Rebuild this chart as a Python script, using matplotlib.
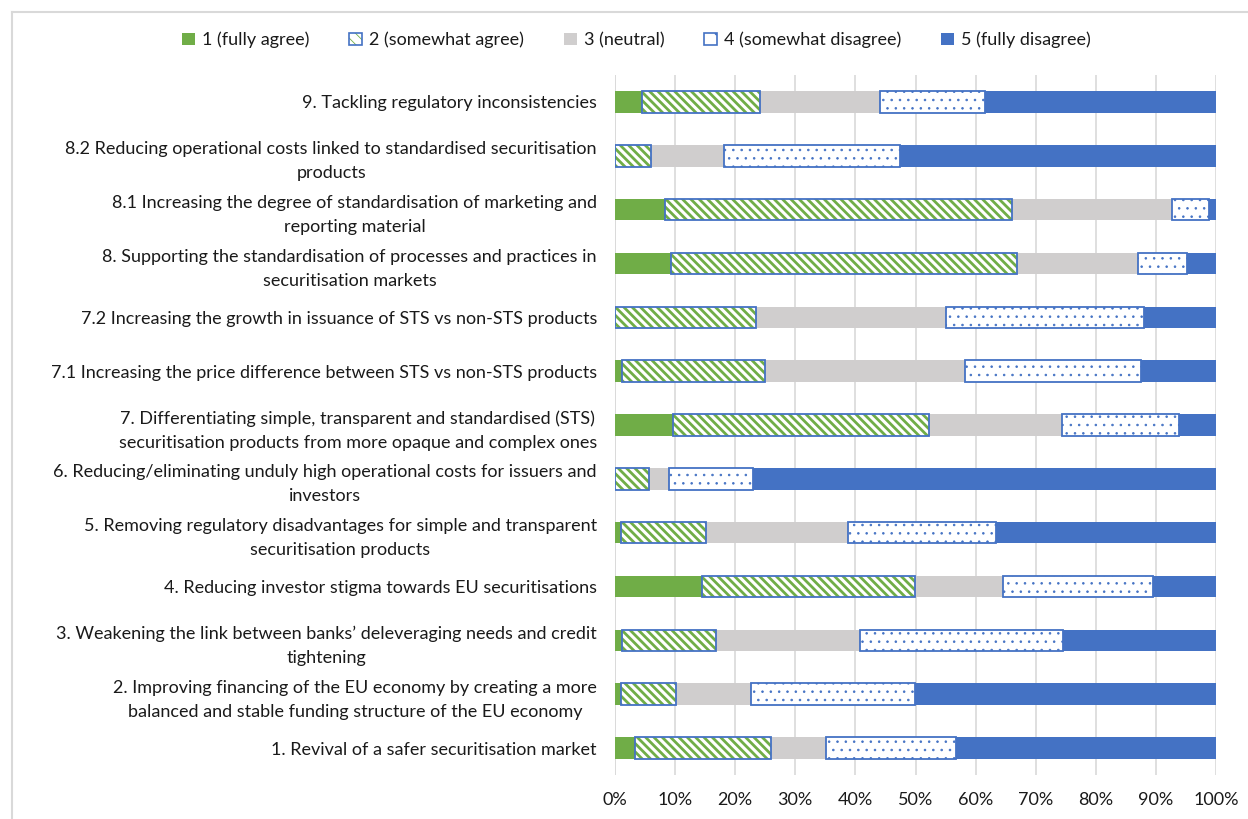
import matplotlib
matplotlib.use("Agg")
import matplotlib.pyplot as plt
from matplotlib.patches import Patch
from matplotlib.lines import Line2D
import numpy as np

plt.rcParams['font.family'] = ['Lato', 'DejaVu Sans']

# categories, bottom to top
labels = [
    "1. Revival of a safer securitisation market",
    "2. Improving financing of the EU economy by creating a more\nbalanced and stable funding structure of the EU economy",
    "3. Weakening the link between banks\u2019 deleveraging needs and credit\ntightening",
    "4. Reducing investor stigma towards EU securitisations",
    "5. Removing regulatory disadvantages for simple and transparent\nsecuritisation products",
    "6. Reducing/eliminating unduly high operational costs for issuers and\ninvestors",
    "7. Differentiating simple, transparent and standardised (STS)\nsecuritisation products from more opaque and complex ones",
    "7.1 Increasing the price difference between STS vs non-STS products",
    "7.2 Increasing the growth in issuance of STS vs non-STS products",
    "8. Supporting the standardisation of processes and practices in\nsecuritisation markets",
    "8.1 Increasing the degree of standardisation of marketing and\nreporting material",
    "8.2 Reducing operational costs linked to standardised securitisation\nproducts",
    "9. Tackling regulatory inconsistencies",
]

# shares in %, same order as labels
fully_agree      = [3.3, 1.0, 1.2, 14.5, 1.0, 0.0, 9.7, 1.2, 0.0, 9.3, 8.3, 0.0, 4.5]
somewhat_agree   = [22.7, 9.1, 15.6, 35.4, 14.1, 5.6, 42.6, 23.7, 23.5, 57.6, 57.8, 6.0, 19.7]
neutral          = [9.1, 12.5, 23.9, 14.7, 23.6, 3.4, 22.0, 33.3, 31.6, 20.1, 26.6, 12.1, 19.9]
somewhat_disagr  = [21.6, 27.3, 33.8, 24.9, 24.7, 13.9, 19.5, 29.3, 33.0, 8.2, 6.1, 29.4, 17.4]
fully_disagree   = [43.3, 50.1, 25.5, 10.5, 36.6, 77.1, 6.2, 12.5, 11.9, 4.8, 1.2, 52.5, 38.5]

series_names = ["1 (fully agree)", "2 (somewhat agree)", "3 (neutral)",
                "4 (somewhat disagree)", "5 (fully disagree)"]

green = "#70AD47"
grey = "#D0CECE"
blue = "#4472C4"
STRIPES = "\\\\\\\\"
DOTS = ".."

def set_hlw(patches, lw):
    for p in patches:
        if hasattr(p, "set_hatch_linewidth"):
            p.set_hatch_linewidth(lw)

fig = plt.figure(figsize=(12.48, 8.19), dpi=100)
ax = fig.add_axes([615/1248, 1-775/819, 601/1248, 700/819])

y = np.arange(len(labels))
h = 0.4
left = np.zeros(len(labels))

# 1 fully agree
ax.barh(y, fully_agree, h, left=left, color=green, linewidth=0, zorder=3)
left += np.array(fully_agree)
# 2 somewhat agree: green stripes, blue outline
plt.rcParams['hatch.linewidth'] = 2.0
b2 = ax.barh(y, somewhat_agree, h, left=left, facecolor="white", edgecolor=green,
             hatch=STRIPES, linewidth=0, zorder=3)
set_hlw(b2, 2.0)
ax.barh(y, somewhat_agree, h, left=left, fill=False, edgecolor=blue,
        linewidth=1.3, zorder=4)
left += np.array(somewhat_agree)
# 3 neutral
ax.barh(y, neutral, h, left=left, color=grey, linewidth=0, zorder=3)
left += np.array(neutral)
# 4 somewhat disagree: blue dots
plt.rcParams['hatch.linewidth'] = 0.6
b4 = ax.barh(y, somewhat_disagr, h, left=left, facecolor="white", edgecolor=blue,
             hatch=DOTS, linewidth=0, zorder=3)
set_hlw(b4, 0.6)
ax.barh(y, somewhat_disagr, h, left=left, fill=False, edgecolor=blue,
        linewidth=1.3, zorder=4)
left += np.array(somewhat_disagr)
# 5 fully disagree
ax.barh(y, fully_disagree, h, left=left, color=blue, linewidth=0, zorder=3)

ax.set_xlim(0, 100)
ax.set_ylim(-0.5, len(labels) - 0.5)
ax.set_xticks(np.arange(0, 101, 10))
ax.set_xticklabels([f"{v}%" for v in range(0, 101, 10)])
ax.set_yticks(y)
ax.set_yticklabels(labels)
for t in ax.get_yticklabels():
    t.set_multialignment("center")
    t.set_linespacing(1.6)
ax.tick_params(axis="both", length=0, labelsize=13, colors="#1a1a1a")
ax.tick_params(axis="y", pad=13)
ax.tick_params(axis="x", pad=12)
ax.grid(axis="x", color="#D9D9D9", linewidth=1.2, zorder=0)
for s in ax.spines.values():
    s.set_visible(False)
ax.axvline(0, color="#D9D9D9", linewidth=1.2, zorder=1)

h2a = Patch(facecolor="white", edgecolor=green, hatch="\\\\\\", linewidth=0)
h4a = Patch(facecolor="white", edgecolor=blue, hatch=".", linewidth=0)
set_hlw([h2a], 1.5)
set_hlw([h4a], 0.6)
handles = [
    Patch(facecolor=green, edgecolor=green, linewidth=0),
    (h2a, Patch(fill=False, edgecolor=blue, linewidth=1.2)),
    Patch(facecolor=grey, edgecolor=grey, linewidth=0),
    (h4a, Patch(fill=False, edgecolor=blue, linewidth=1.2)),
    Patch(facecolor=blue, edgecolor=blue, linewidth=0),
]
fig.legend(handles, series_names, loc="center", bbox_to_anchor=(0.51, 0.951),
           ncol=5, frameon=False, fontsize=13, handlelength=0.7,
           handleheight=0.7, columnspacing=2.2, handletextpad=0.4,
           labelcolor="#1a1a1a")

# light chart-area border
fig.add_artist(Line2D([12/1248, 1], [1-12/819, 1-12/819], color="#D9D9D9", linewidth=1.5))
fig.add_artist(Line2D([12/1248, 12/1248], [0, 1-12/819], color="#D9D9D9", linewidth=1.5))

fig.savefig("out.png", dpi=100)
